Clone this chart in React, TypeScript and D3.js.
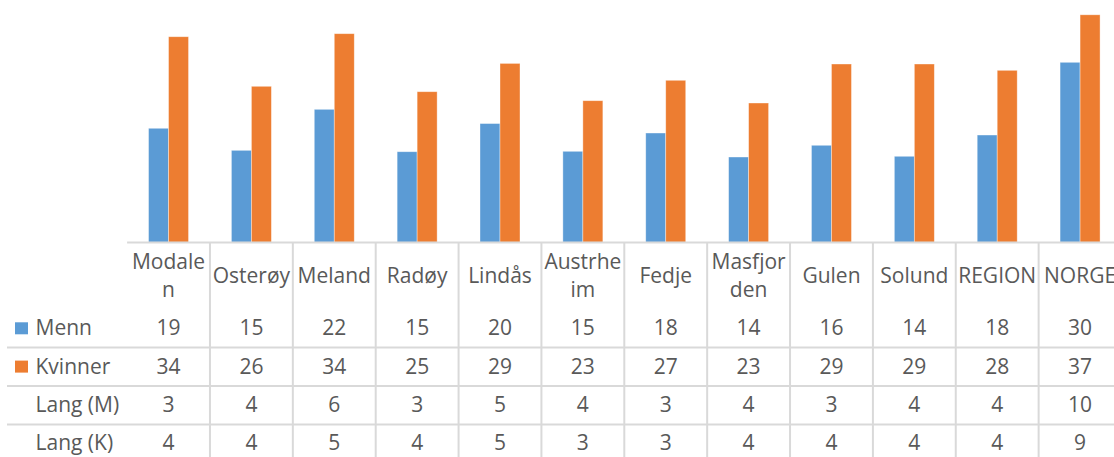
import React from "react";
import * as d3 from "d3";

const categories = ["Modalen", "Osterøy", "Meland", "Radøy", "Lindås", "Austrheim", "Fedje", "Masfjorden", "Gulen", "Solund", "REGION", "NORGE"];
const categoryLines = [["Modale", "n"], ["Osterøy"], ["Meland"], ["Radøy"], ["Lindås"], ["Austrhe", "im"], ["Fedje"], ["Masfjor", "den"], ["Gulen"], ["Solund"], ["REGION"], ["NORGE"]];
const series = ["Menn", "Kvinner"];
const menn = [18.77, 15.14, 21.89, 14.91, 19.55, 14.98, 17.99, 14.04, 15.97, 14.16, 17.66, 29.63];
const kvinner = [33.84, 25.68, 34.34, 24.79, 29.45, 23.31, 26.67, 22.93, 29.35, 29.35, 28.31, 37.45];
const langM = [3, 4, 6, 3, 5, 4, 3, 4, 3, 4, 4, 10];
const langK = [4, 4, 5, 4, 5, 3, 3, 4, 4, 4, 4, 9];
const colors = ["#5B9BD5", "#ED7D31"];

const W = 1114;
const H = 457;
const FONT = "'Open Sans', sans-serif";
const TEXT = "#595959";
const GRID = "#d9d9d9";

export default function App() {
  const x = d3.scaleBand<string>().domain(categories).range([127.1, 1121.5]).padding(0);
  const inner = d3.scaleBand<string>().domain(series).range([0, x.bandwidth()]).paddingInner(0).paddingOuter(1.072);
  const y = d3.scaleLinear().domain([0, 40]).range([242.3, -0.7]);
  const baseY = y(0);

  const rows = [
    { label: "Menn", values: menn.map((v) => Math.round(v)), color: colors[0], baseline: 335.3 },
    { label: "Kvinner", values: kvinner.map((v) => Math.round(v)), color: colors[1], baseline: 373.6 },
    { label: "Lang (M)", values: langM, color: null, baseline: 411.9 },
    { label: "Lang (K)", values: langK, color: null, baseline: 450.2 },
  ];
  const rowLines = [347.5, 386, 424.5];
  const seriesData = [menn, kvinner];

  return (
    <>
      <style>{`body{margin:0}`}</style>
      <svg width={W} height={H} style={{ display: "block", background: "#fff" }}>
        {/* bars */}
        {categories.map((c, i) => (
          <g key={c} transform={`translate(${x(c)},0)`}>
            {series.map((s, j) => {
              const v = seriesData[j][i];
              return (
                <rect
                  key={s}
                  x={inner(s)}
                  y={y(v)}
                  width={inner.bandwidth()}
                  height={baseY - y(v)}
                  fill={colors[j]}
                  stroke="#ffffff"
                  strokeOpacity={0.5}
                  strokeWidth={0.75}
                />
              );
            })}
          </g>
        ))}
        {/* axis line */}
        <line x1={127.1} x2={W} y1={242.5} y2={242.5} stroke={GRID} strokeWidth={2} />
        {/* vertical table lines */}
        {categories.slice(1).map((c) => (
          <line key={c} x1={x(c)} x2={x(c)} y1={242.5} y2={H} stroke={GRID} strokeWidth={2} />
        ))}
        {/* row lines */}
        {rowLines.map((ly) => (
          <line key={ly} x1={7} x2={W} y1={ly} y2={ly} stroke={GRID} strokeWidth={2} />
        ))}
        {/* header labels */}
        {categories.map((c, i) => {
          const lines = categoryLines[i];
          const lh = 28.4;
          const first = 283 - ((lines.length - 1) * lh) / 2;
          return (
            <text key={c} x={x(c)! + x.bandwidth() / 2} textAnchor="middle" fontFamily={FONT} fontSize={21} fill={TEXT}>
              {lines.map((l, k) => (
                <tspan key={k} x={x(c)! + x.bandwidth() / 2} y={first + k * lh}>
                  {l}
                </tspan>
              ))}
            </text>
          );
        })}
        {/* rows */}
        {rows.map((r) => (
          <g key={r.label}>
            {r.color && <rect x={15} y={r.baseline - 13} width={13} height={12} fill={r.color} />}
            <text x={35.5} y={r.baseline} fontFamily={FONT} fontSize={21} fill={TEXT}>
              {r.label}
            </text>
            {r.values.map((v, i) => (
              <text key={i} x={x(categories[i])! + x.bandwidth() / 2} y={r.baseline} textAnchor="middle" fontFamily={FONT} fontSize={21} fill={TEXT}>
                {v}
              </text>
            ))}
          </g>
        ))}
      </svg>
    </>
  );
}
